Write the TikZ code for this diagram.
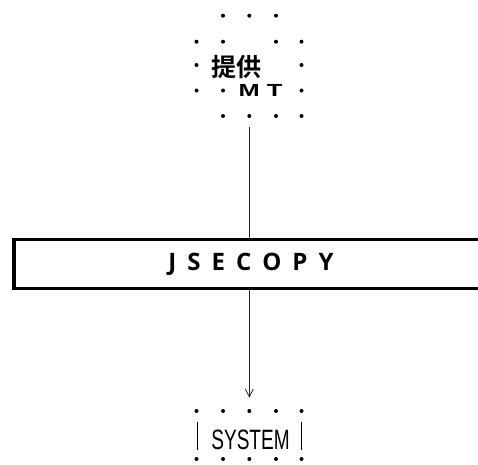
\documentclass[tikz,border=0pt]{standalone}
\usepackage{fontspec}
\usetikzlibrary{arrows.meta}
\setmainfont{Liberation Sans}
\newfontfamily\cjkfont{Noto Sans CJK SC}[BoldFont=* Bold]
\newfontfamily\bannerfont{Open Sans}
\newfontfamily\narrowfont{Liberation Sans}[FakeStretch=0.68]

\tikzset{
  dotfill/.style={fill=black},
  group/.style={draw=none, inner sep=0pt},
  banner/.style={draw=black, line width=3.8pt, inner sep=0pt,
    minimum width=474pt, minimum height=49pt,
    font=\bannerfont\bfseries\fontsize{24}{24}\selectfont},
  link/.style={draw=black!85, line width=0.9pt},
  bar/.style={draw=black, line width=0.9pt},
}

\begin{document}
\begin{tikzpicture}[x=1pt, y=-1pt]
  \useasboundingbox (0,0) rectangle (478,464);
  \clip (0,0) rectangle (478,464);

  % upper group: scattered dots around the two labels
  \node[group, minimum width=106pt, minimum height=111pt] (src) at (249.3,71) {};
  \foreach \x/\y in {223/15.7, 249.3/15.7, 276/15.7,
                     196.5/41.7, 223/41.7, 276/41.7, 301.5/41.7,
                     196.5/65, 301.5/65,
                     196.5/90.5, 223/90.5, 301.5/90.5,
                     223/116, 249.3/116, 276/116, 301.5/116}
    \fill[dotfill] (\x,\y) circle (2pt);
  \node[inner sep=0pt, font=\cjkfont\bfseries\fontsize{25}{25}\selectfont]
    (prov) at (236,67) {提供};
  \node[inner sep=0pt, anchor=base, font=\bfseries\fontsize{17.5}{17.5}\selectfont]
    (mt) at (260.5,96.7) {\scalebox{1.45}[1]{M T}};

  % wide banner
  \node[banner] (jse) at (251,264)
    {J\hspace{11pt}S\hspace{11pt}E\hspace{11pt}C\hspace{11pt}O\hspace{11pt}P\hspace{11pt}Y};

  % lower group
  \node[group, minimum width=106pt, minimum height=74pt] (sys) at (249.3,435) {};
  \foreach \x in {196.5, 223, 249.3, 276, 301.5} {
    \fill[dotfill] (\x,411) circle (2pt);
    \fill[dotfill] (\x,459) circle (2pt);
  }
  \coordinate (barLtop) at (197.3,421.7);
  \coordinate (barLbot) at (197.3,450);
  \coordinate (barRtop) at (301.7,421.7);
  \coordinate (barRbot) at (301.7,450);
  \draw[bar] (barLtop) -- (barLbot);
  \draw[bar] (barRtop) -- (barRbot);
  \node[inner sep=0pt, anchor=base, font=\narrowfont\fontsize{28}{28}\selectfont]
    (systxt) at (250.5,449) {SYSTEM};

  % connectors
  \draw[link] (src.south) -- (src.south |- jse.north);
  \draw[link, -{Straight Barb[length=8pt, width=8pt, line width=0.8pt]}]
    (src.south |- jse.south) -- (sys.north);
\end{tikzpicture}
\end{document}
